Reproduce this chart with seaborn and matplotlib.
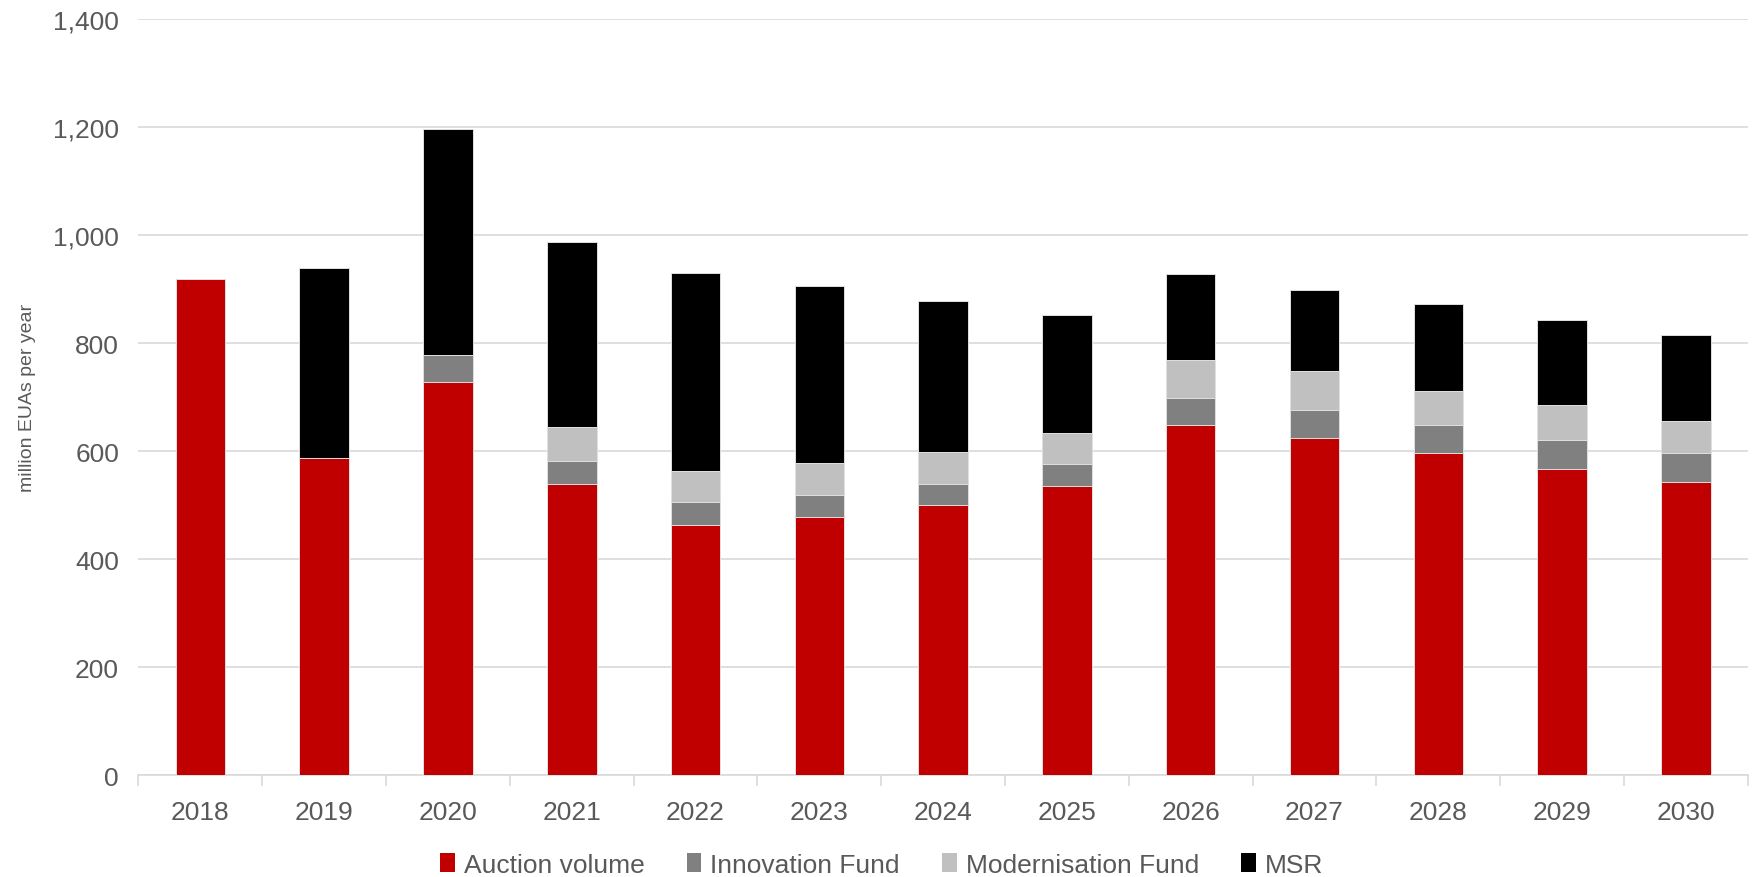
"""
EUA auction volumes with Innovation Fund, Modernisation Fund and MSR, 2018-2030
"""

import matplotlib
matplotlib.use('Agg')
import matplotlib.pyplot as plt
from matplotlib.patches import Patch
from matplotlib.ticker import FuncFormatter, FixedLocator
import seaborn as sns
import pandas as pd
import numpy as np

years = ['2018', '2019', '2020', '2021', '2022', '2023', '2024',
         '2025', '2026', '2027', '2028', '2029', '2030']
auction = [918, 588, 729, 540, 464, 478, 501, 536, 648, 625, 596, 567, 543]
innovation = [0, 0, 50, 42, 41, 40, 39, 40, 50, 52, 52, 54, 53]
modernisation = [0, 0, 0, 62, 58, 60, 58, 58, 70, 71, 64, 64, 60]
msr = [0, 352, 418, 344, 367, 327, 280, 219, 160, 151, 160, 158, 160]

series_names = ['Auction volume', 'Innovation Fund', 'Modernisation Fund', 'MSR']
series_colors = ['#C00000', '#808080', '#C0C0C0', '#000000']

TEXT = '#595959'
GRID = '#D9D9D9'

sns.set_style('white')
plt.rcParams['font.family'] = ['Liberation Sans', 'DejaVu Sans']

df = pd.DataFrame({'Year': years,
                   'Auction volume': auction,
                   'Innovation Fund': innovation,
                   'Modernisation Fund': modernisation,
                   'MSR': msr})

# cumulative tops, drawn largest first so each layer covers the one above
cum = df[series_names].cumsum(axis=1)

fig = plt.figure(figsize=(17.53, 8.78), dpi=100)
ax = fig.add_axes([0.079, 0.116, 0.918, 0.861])

for name, color in reversed(list(zip(series_names, series_colors))):
    sns.barplot(x=df['Year'], y=cum[name], color=color, saturation=1,
                width=0.4, edgecolor='#E0E0E0', linewidth=0.7, ax=ax, zorder=3)

ax.set_ylim(0, 1400)
ax.set_xlim(-0.5, len(years) - 0.5)
ax.set_yticks(np.arange(0, 1401, 200))
ax.yaxis.set_major_formatter(FuncFormatter(lambda v, p: f'{int(v):,}'))
ax.grid(axis='y', color=GRID, linewidth=1.2, zorder=0)
ax.set_axisbelow(True)

for s in ['top', 'right', 'left']:
    ax.spines[s].set_visible(False)
ax.spines['bottom'].set_color(GRID)
ax.spines['bottom'].set_linewidth(1.2)

ax.tick_params(axis='y', length=0, labelsize=19, labelcolor=TEXT, pad=14)
ax.tick_params(axis='x', which='major', length=0, labelsize=19,
               labelcolor=TEXT, pad=18)
ax.xaxis.set_minor_locator(FixedLocator(np.arange(-0.5, len(years), 1.0)))
ax.tick_params(axis='x', which='minor', bottom=True, length=8, color=GRID,
               width=1.2)

ax.set_xlabel('')
ax.set_ylabel('million EUAs per year', fontsize=14, color=TEXT, labelpad=12)

handles = [Patch(facecolor=c, edgecolor='none', label=n)
           for n, c in zip(series_names, series_colors)]
leg = fig.legend(handles=handles, loc='center', bbox_to_anchor=(0.503, 0.014),
                 ncol=4, frameon=False, handlelength=0.55, handleheight=0.75,
                 handletextpad=0.35, columnspacing=1.6,
                 prop={'size': 19})
for t in leg.get_texts():
    t.set_color(TEXT)

plt.savefig('out.png', dpi=100)
plt.close(fig)
